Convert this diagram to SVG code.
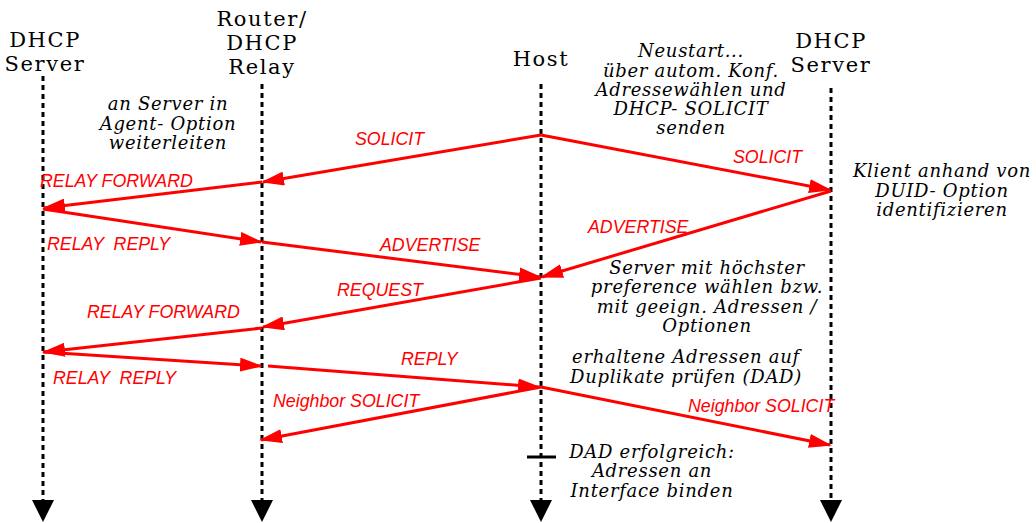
<svg xmlns="http://www.w3.org/2000/svg" width="1036" height="523" viewBox="0 0 1036 523">
  <style>
    .hdr { font-family: "DejaVu Serif", "Liberation Serif", serif; font-size: 21px; letter-spacing: 1.6px; fill: #000; text-anchor: middle; }
    .note { font-family: "DejaVu Serif", "Liberation Serif", serif; font-style: italic; font-size: 18px; letter-spacing: 0.7px; fill: #000; text-anchor: middle; }
    .msg { font-family: "Liberation Sans", Arial, sans-serif; font-style: italic; font-size: 17.8px; fill: #ff0000; white-space: pre; }
    .life { stroke: #000; stroke-width: 3; stroke-dasharray: 5 4; fill: none; }
    .arr { stroke: #ff0000; stroke-width: 3; fill: none; marker-end: url(#ah); }
  </style>
  <defs>
    <marker id="ah" markerUnits="userSpaceOnUse" markerWidth="23" markerHeight="14" refX="21" refY="7" orient="auto">
      <path d="M0,0 L23,7 L0,14 z" fill="#ff0000"/>
    </marker>
  </defs>
  <rect width="1036" height="523" fill="#fff"/>

  <!-- participant: DHCP server (left) -->
  <g id="server-left">
    <text class="hdr" x="45" y="47">DHCP</text>
    <text class="hdr" x="45" y="71">Server</text>
    <line class="life" x1="43" y1="76" x2="43" y2="500"/>
    <path d="M32,500 L54,500 L43,522 z" fill="#000"/>
  </g>

  <!-- participant: router / DHCP relay -->
  <g id="relay">
    <text class="hdr" x="262" y="26">Router/</text>
    <text class="hdr" x="262" y="50">DHCP</text>
    <text class="hdr" x="262" y="74">Relay</text>
    <line class="life" x1="262" y1="84" x2="262" y2="500"/>
    <path d="M251,500 L273,500 L262,522 z" fill="#000"/>
  </g>

  <!-- participant: host -->
  <g id="host">
    <text class="hdr" x="541" y="66">Host</text>
    <line class="life" x1="541" y1="84" x2="541" y2="500"/>
    <path d="M530,500 L552,500 L541,522 z" fill="#000"/>
    <line x1="527" y1="457" x2="556" y2="457" stroke="#000" stroke-width="3"/>
  </g>

  <!-- participant: DHCP server (right) -->
  <g id="server-right">
    <text class="hdr" x="831" y="48">DHCP</text>
    <text class="hdr" x="831" y="72">Server</text>
    <line class="life" x1="831" y1="88" x2="831" y2="500"/>
    <path d="M820,500 L842,500 L831,522 z" fill="#000"/>
  </g>

  <!-- annotations -->
  <g id="note-relay">
    <text class="note" x="168" y="110">an Server in</text>
    <text class="note" x="168" y="130">Agent- Option</text>
    <text class="note" x="168" y="149">weiterleiten</text>
  </g>
  <g id="note-restart">
    <text class="note" x="691" y="57">Neustart...</text>
    <text class="note" x="691" y="77">über autom. Konf.</text>
    <text class="note" x="691" y="96">Adressewählen und</text>
    <text class="note" x="691" y="115">DHCP- SOLICIT</text>
    <text class="note" x="691" y="134">senden</text>
  </g>
  <g id="note-duid">
    <text class="note" x="942" y="177">Klient anhand von</text>
    <text class="note" x="942" y="197">DUID- Option</text>
    <text class="note" x="942" y="216">identifizieren</text>
  </g>
  <g id="note-select">
    <text class="note" x="707" y="274">Server mit höchster</text>
    <text class="note" x="707" y="293">preference wählen bzw.</text>
    <text class="note" x="707" y="313">mit geeign. Adressen /</text>
    <text class="note" x="707" y="332">Optionen</text>
  </g>
  <g id="note-dad">
    <text class="note" x="686" y="363">erhaltene Adressen auf</text>
    <text class="note" x="686" y="383">Duplikate prüfen (DAD)</text>
  </g>
  <g id="note-bind">
    <text class="note" x="652" y="458">DAD erfolgreich:</text>
    <text class="note" x="652" y="477">Adressen an</text>
    <text class="note" x="652" y="497">Interface binden</text>
  </g>

  <!-- messages -->
  <g id="connectors">
    <line class="arr" x1="541" y1="135" x2="263" y2="182"/>
    <line class="arr" x1="541" y1="135" x2="830" y2="190"/>
    <line class="arr" x1="262" y1="182" x2="44" y2="208"/>
    <line class="arr" x1="43" y1="209" x2="261" y2="242"/>
    <line class="arr" x1="262" y1="242" x2="540" y2="277"/>
    <line class="arr" x1="831" y1="191" x2="542" y2="277"/>
    <line class="arr" x1="541" y1="278" x2="263" y2="327"/>
    <line class="arr" x1="262" y1="328" x2="44" y2="352"/>
    <line class="arr" x1="43" y1="352" x2="261" y2="366"/>
    <line class="arr" x1="268" y1="366" x2="539" y2="387"/>
    <line class="arr" x1="541" y1="387" x2="261" y2="440"/>
    <line class="arr" x1="541" y1="387" x2="830" y2="445"/>
  </g>

  <!-- message labels -->
  <g id="labels">
    <text class="msg" x="355" y="145">SOLICIT</text>
    <text class="msg" x="733" y="163">SOLICIT</text>
    <text class="msg" x="40" y="187">RELAY FORWARD</text>
    <text class="msg" x="47" y="250">RELAY  REPLY</text>
    <text class="msg" x="380" y="251">ADVERTISE</text>
    <text class="msg" x="588" y="233">ADVERTISE</text>
    <text class="msg" x="337" y="296">REQUEST</text>
    <text class="msg" x="87" y="318">RELAY FORWARD</text>
    <text class="msg" x="53" y="384">RELAY  REPLY</text>
    <text class="msg" x="401" y="365">REPLY</text>
    <text class="msg" x="273" y="407">Neighbor SOLICIT</text>
    <text class="msg" x="688" y="412">Neighbor SOLICIT</text>
  </g>
</svg>
